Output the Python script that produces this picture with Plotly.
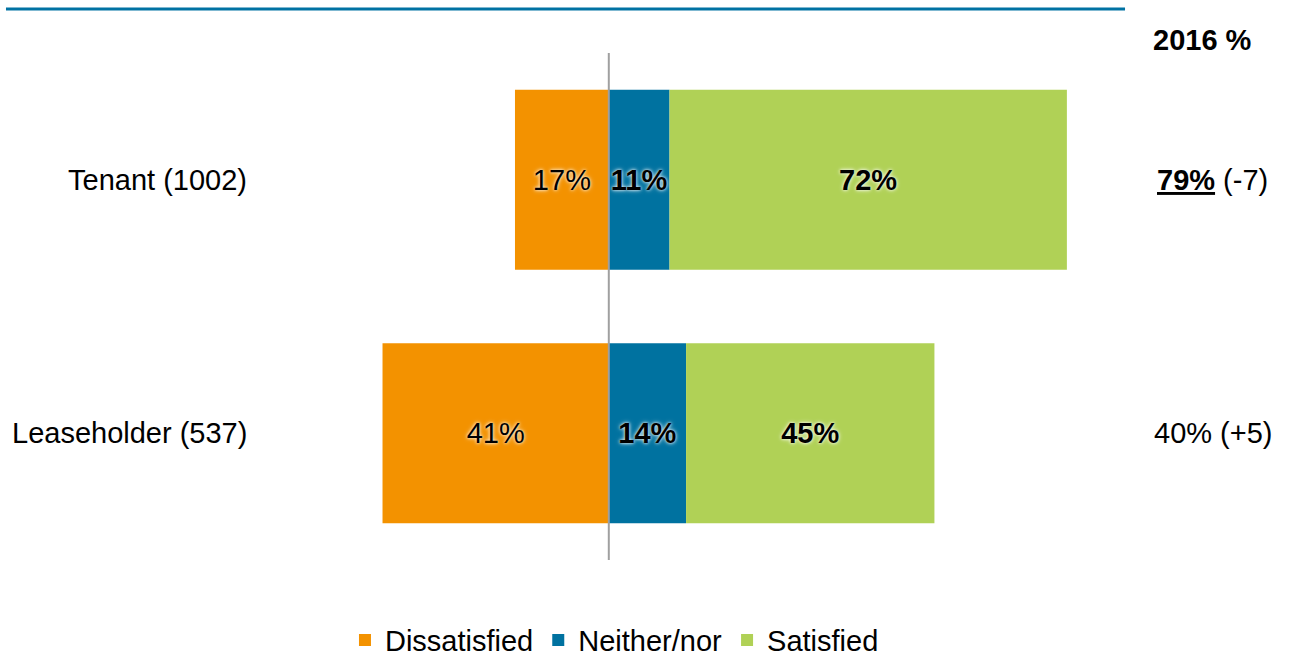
import plotly.graph_objects as go

categories = ["Tenant (1002)", "Leaseholder (537)"]
series_names = ["Dissatisfied", "Neither/nor", "Satisfied"]
dissatisfied = [17, 41]
neither = [11, 14]
satisfied = [72, 45]
prev_2016 = [79, 40]
change = ["-7", "+5"]
prev_highlight = [True, False]

colors = {"Dissatisfied": "#F39200", "Neither/nor": "#0072A0", "Satisfied": "#B0D156"}
FONT = "Liberation Sans, Arial, sans-serif"
FS = 29

fig = go.Figure()
vals = {"Dissatisfied": [-v for v in dissatisfied], "Neither/nor": neither, "Satisfied": satisfied}
raw = {"Dissatisfied": dissatisfied, "Neither/nor": neither, "Satisfied": satisfied}
for name in series_names:
    bold = name != "Dissatisfied"
    fig.add_trace(go.Bar(
        name=name, y=categories, x=vals[name], orientation="h",
        marker=dict(color=colors[name], line=dict(width=0)),
        text=[(f"<b>{v}%</b>" if bold else f"{v}%") for v in raw[name]],
        textposition="inside", insidetextanchor="middle", textangle=0,
        constraintext="none",
        textfont=dict(family=FONT, size=FS, color="black",
                      shadow="0 0 3px rgba(255,255,255,0.9), 0 0 5px rgba(255,255,255,0.7)"),
        hoverinfo="skip",
    ))

fig.update_layout(
    barmode="relative",
    bargap=0.29,
    width=1290, height=657,
    margin=dict(l=260, r=190, t=53, b=97, autoexpand=False),
    paper_bgcolor="white", plot_bgcolor="white",
    font=dict(family=FONT, size=FS, color="black"),
    xaxis=dict(range=[-63.2, 89.0], showgrid=False, zeroline=False,
               showticklabels=False, showline=False, fixedrange=True),
    yaxis=dict(autorange="reversed", showgrid=False, zeroline=False,
               showticklabels=False, showline=False, type="category"),
    legend=dict(orientation="h", x=0.422, xanchor="center", y=-0.158, yanchor="middle",
                font=dict(family=FONT, size=FS, color="black"), traceorder="normal",
                itemclick=False),
    showlegend=True,
)

# zero line
fig.add_shape(type="line", xref="x", yref="paper", x0=0, x1=0, y0=0, y1=1,
              line=dict(color="#A0A0A0", width=2), layer="above")
# top rule
fig.add_shape(type="line", xref="paper", yref="paper", x0=-0.3024, x1=1.0298,
              y0=1.0868, y1=1.0868, line=dict(color="#0072A3", width=3))

# category labels
for c in categories:
    fig.add_annotation(x=-0.0131, xref="paper", y=c, yref="y", text=c,
                       xanchor="right", yanchor="middle", showarrow=False,
                       font=dict(family=FONT, size=FS, color="black"))

# 2016 column
fig.add_annotation(x=1.1226, xref="paper", y=1.0256, yref="paper", text="<b>2016 %</b>",
                   xanchor="center", yanchor="middle", showarrow=False,
                   font=dict(family=FONT, size=FS, color="black"))
for c, p, ch, hl in zip(categories, prev_2016, change, prev_highlight):
    if hl:
        t = f'<b><span style="text-decoration:underline">{p}%</span></b> ({ch})'
    else:
        t = f"{p}% ({ch})"
    fig.add_annotation(x=1.1345, xref="paper", y=c, yref="y", text=t,
                       xanchor="center", yanchor="middle", showarrow=False,
                       font=dict(family=FONT, size=FS, color="black"))

fig.write_html("out.html", config={"displayModeBar": False},
               post_script="document.body.style.margin='0px';document.body.style.overflow='hidden';")
